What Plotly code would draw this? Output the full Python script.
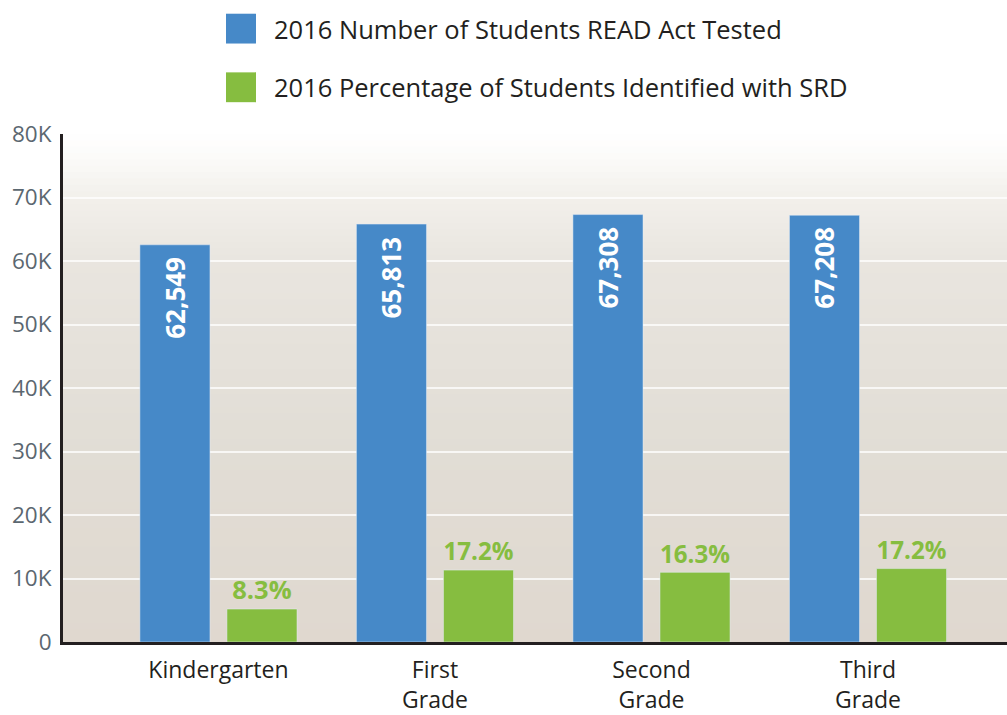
import plotly.graph_objects as go

# ---- data ----
categories = ["Kindergarten", "First<br>Grade", "Second<br>Grade", "Third<br>Grade"]
series_names = ["2016 Number of Students READ Act Tested",
                "2016 Percentage of Students Identified with SRD"]
tested = [62549, 65813, 67308, 67208]
identified = [5190, 11320, 10970, 11560]          # bar heights
tested_labels = ["62,549", "65,813", "67,308", "67,208"]
pct_labels = ["8.3%", "17.2%", "16.3%", "17.2%"]
y_tickvals = [0, 10000, 20000, 30000, 40000, 50000, 60000, 70000, 80000]
y_ticktext = ["0", "10K", "20K", "30K", "40K", "50K", "60K", "70K", "80K"]

BLUE = "#4689c8"
GREEN = "#86bd40"
FONT = "Open Sans"

fig = go.Figure()
fig.add_trace(go.Bar(
    x=categories, y=tested, name=series_names[0], marker_color=BLUE,
    showlegend=False,
))
fig.add_trace(go.Bar(
    x=categories, y=identified, name=series_names[1], marker_color=GREEN,
    text=pct_labels, textposition="outside",
    textfont=dict(family=FONT, size=25.5, color=GREEN, weight="bold"),
    showlegend=False, cliponaxis=False,
))

# gradient background (styling) - stacked rects from the bottom so no seams
stops = [(80000, (255, 255, 255)), (76000, (251, 250, 248)), (70000, (242, 240, 235)),
         (60000, (233, 229, 223)), (30000, (225, 221, 213)), (0, (224, 216, 207))]
shapes = []
n = 80
for i in range(n, 0, -1):
    y1 = 80000 * i / n
    ym = 80000 * (i - 0.5) / n
    for j in range(len(stops) - 1):
        a, ca = stops[j]
        b, cb = stops[j + 1]
        if b <= ym <= a:
            t = (a - ym) / (a - b)
            c = tuple(round(ca[k] + (cb[k] - ca[k]) * t) for k in range(3))
            break
    shapes.append(dict(type="rect", xref="paper", yref="y", x0=0, x1=1, y0=0, y1=y1,
                       fillcolor="rgb(%d,%d,%d)" % c, line_width=0, layer="below"))


def py(p):
    # pixel y to paper coordinate (plot area 134..645)
    return (645 - p) / 511


annotations = []
legend_items = [(series_names[0], BLUE, 28), (series_names[1], GREEN, 87)]
for name, col, yc in legend_items:
    shapes.append(dict(type="rect", xref="paper", yref="paper",
                       x0=(226 - 63) / 944, x1=(256 - 63) / 944,
                       y0=py(yc + 15), y1=py(yc - 15),
                       fillcolor=col, line_width=0))
    annotations.append(dict(xref="paper", yref="paper", x=(272 - 63) / 944, y=py(yc),
                            text=name, showarrow=False, xanchor="left", yanchor="middle",
                            font=dict(family=FONT, size=25.5, color="#231f20")))

# rotated value labels inside blue bars
for cat, val, lab in zip(categories, tested, tested_labels):
    annotations.append(dict(x=cat, y=val, xref="x", yref="y", text=lab, showarrow=False,
                            textangle=-90, xanchor="center", yanchor="top",
                            xshift=-43.5, yshift=-10,
                            font=dict(family=FONT, size=26, color="white", weight="bold")))

fig.update_layout(
    width=1007, height=715,
    margin=dict(l=63, r=0, t=134, b=70),
    paper_bgcolor="white", plot_bgcolor="rgba(0,0,0,0)",
    barmode="group", bargap=0.196, bargroupgap=0.195,
    shapes=shapes, annotations=annotations,
    font=dict(family=FONT),
    showlegend=False,
)
fig.update_xaxes(
    range=[-0.718, 3.642], showgrid=False, ticks="",
    showline=True, linecolor="#231f20", linewidth=3,
    tickfont=dict(family=FONT, size=23, color="#231f20"), ticklabelstandoff=5,
)
fig.update_yaxes(
    range=[0, 80000], tickvals=y_tickvals, ticktext=y_ticktext,
    showgrid=True, gridcolor="rgba(255,255,255,0.75)", gridwidth=2,
    showline=True, linecolor="#231f20", linewidth=3, zeroline=False,
    tickfont=dict(family=FONT, size=22.5, color="#5b6770"), ticks="", ticklabelstandoff=4,
)

fig.write_html("out.html", config={"displayModeBar": False},
               post_script="document.body.style.margin='0px';")
